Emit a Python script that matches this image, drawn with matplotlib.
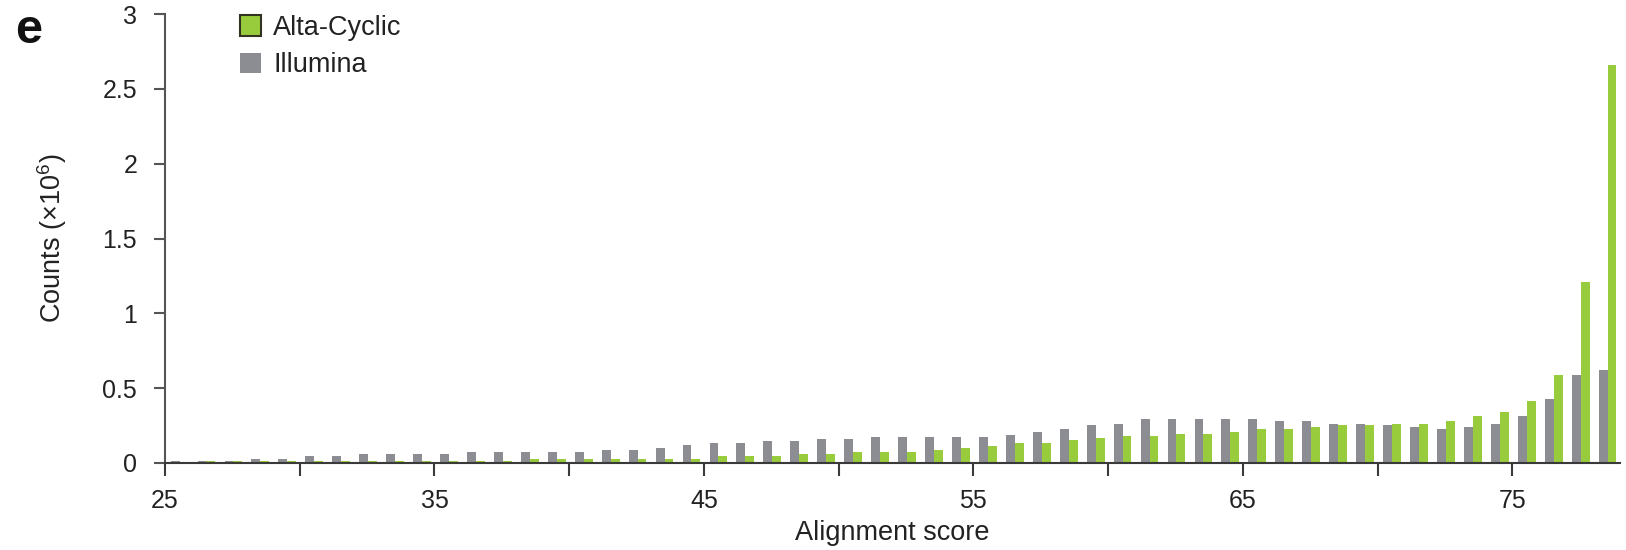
import numpy as np
import matplotlib
matplotlib.use("Agg")
import matplotlib.pyplot as plt
from matplotlib.patches import Patch
from matplotlib.ticker import FixedLocator, FuncFormatter

plt.rcParams['font.family'] = ['Liberation Sans', 'DejaVu Sans']
plt.rcParams['mathtext.fontset'] = 'custom'
plt.rcParams['mathtext.rm'] = 'Liberation Sans'

# alignment score bins (one bar pair per score)
scores = np.arange(25, 79)

illumina = [0.016, 0.016, 0.016, 0.03, 0.03, 0.045, 0.045, 0.06, 0.06, 0.06,
            0.06, 0.075, 0.075, 0.075, 0.075, 0.075, 0.09, 0.09, 0.103, 0.118,
            0.132, 0.132, 0.145, 0.145, 0.16, 0.16, 0.176, 0.176, 0.176, 0.176,
            0.176, 0.19, 0.209, 0.227, 0.251, 0.263, 0.292, 0.292, 0.292, 0.292,
            0.292, 0.28, 0.28, 0.263, 0.263, 0.251, 0.238, 0.225, 0.238, 0.263,
            0.312, 0.43, 0.59, 0.622]

alta_cyclic = [0.0, 0.015, 0.015, 0.015, 0.015, 0.015, 0.015, 0.015, 0.015, 0.015,
               0.015, 0.015, 0.015, 0.03, 0.03, 0.03, 0.03, 0.03, 0.03, 0.03,
               0.045, 0.045, 0.045, 0.057, 0.057, 0.073, 0.073, 0.073, 0.087, 0.1,
               0.116, 0.134, 0.134, 0.151, 0.167, 0.18, 0.18, 0.193, 0.193, 0.209,
               0.225, 0.225, 0.238, 0.251, 0.251, 0.263, 0.263, 0.28, 0.312, 0.341,
               0.414, 0.59, 1.207, 2.658]

y_ticks = [0, 0.5, 1, 1.5, 2, 2.5, 3]
x_labelled = [25, 35, 45, 55, 65, 75]
x_unlabelled = [30, 40, 50, 60, 70]

GREEN = '#99cc3d'
GREY = '#8c8d92'
AXIS = '#3a3a3a'
TXT = '#222222'

fig = plt.figure(figsize=(16.26, 5.5), dpi=100)
ax = fig.add_axes([165 / 1626, 1 - 463 / 550, 1455 / 1626, 449 / 550])

w = 0.33
ax.bar(scores + 0.375, illumina, width=w, color=GREY, linewidth=0)
ax.bar(scores + 0.705, alta_cyclic, width=w, color=GREEN, linewidth=0)

ax.set_xlim(25, 79)
ax.set_ylim(0, 3)

for s in ['top', 'right']:
    ax.spines[s].set_visible(False)
ax.spines['left'].set_color('#555555')
ax.spines['bottom'].set_color(AXIS)
ax.spines['left'].set_linewidth(1.5)
ax.spines['bottom'].set_linewidth(1.5)

ax.yaxis.set_major_locator(FixedLocator(y_ticks))
ax.yaxis.set_major_formatter(FuncFormatter(lambda v, p: f'{v:g}'))
ax.xaxis.set_major_locator(FixedLocator(x_labelled))
ax.xaxis.set_minor_locator(FixedLocator(x_unlabelled))

ax.tick_params(axis='y', direction='out', length=8, width=1.5, color='#555555',
               pad=12, labelsize=18, labelcolor=TXT)
ax.tick_params(axis='x', which='both', direction='out', length=9, width=1.5,
               color=AXIS, pad=10, labelsize=18, labelcolor=TXT)

ax.set_ylabel('Counts (×10$^6$)', fontsize=19.5, color=TXT)
ax.yaxis.set_label_coords(-0.066, 0.5)
ax.set_xlabel('Alignment score', fontsize=19.5, color=TXT, va='top')
ax.xaxis.set_label_coords(0.5, -0.128)

handles = [Patch(facecolor=GREEN, edgecolor='#333322', linewidth=1.5, label='Alta-Cyclic'),
           Patch(facecolor=GREY, edgecolor='none', label='Illumina')]
ax.legend(handles=handles, loc='upper left', bbox_to_anchor=(0.0515, 0.998),
          frameon=False, fontsize=19.5, handlelength=0.78, handleheight=0.78,
          handletextpad=0.45, labelspacing=0.42, borderaxespad=0, borderpad=0,
          labelcolor=TXT)

fig.text(15 / 1626, 1 - 43 / 550, 'e', fontsize=35, fontweight='bold',
         va='baseline', ha='left', color='#111111')

fig.savefig('out.png', dpi=100)
